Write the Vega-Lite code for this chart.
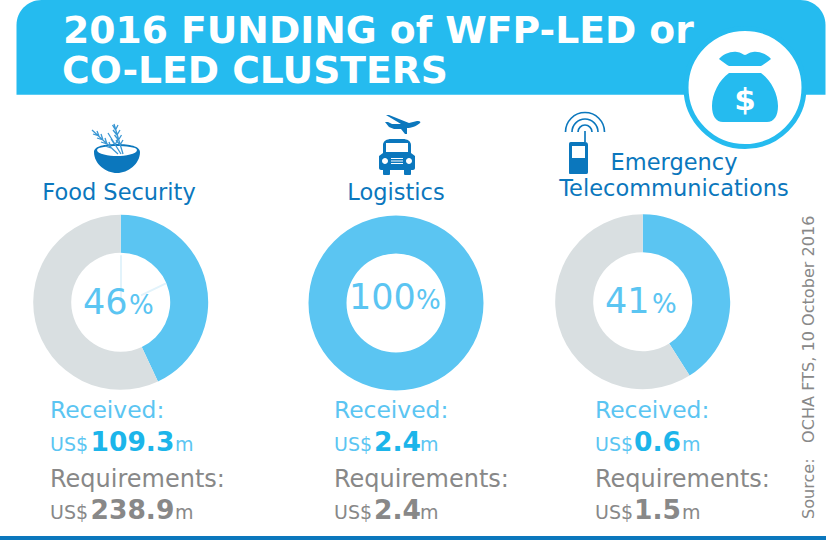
{
"$schema":"https://vega.github.io/schema/vega-lite/v6.json",
"width":826,"height":540,"padding":0,"autosize":{"type":"none"},
"background":"white",
"view":{"stroke":null},
"config":{"text":{"font":"DejaVu Sans"},"axis":{"grid":false}},
"datasets":{
"segments":[
{"column":1,"cluster":"Food Security","part":"Received","start":0,"end":0.43},
{"column":1,"cluster":"Food Security","part":"Gap","start":0.43,"end":1},
{"column":2,"cluster":"Logistics","part":"Received","start":0,"end":1},
{"column":3,"cluster":"Emergency Telecommunications","part":"Received","start":0,"end":0.41},
{"column":3,"cluster":"Emergency Telecommunications","part":"Gap","start":0.41,"end":1}
],
"clusters":[
{"column":1,"name":"Food Security","percent":"46","sign":"%"},
{"column":2,"name":"Logistics","percent":"100","sign":"%"},
{"column":3,"name":"Emergency\nTelecommunications","percent":"41","sign":"%"}
],
"funding":[
{"column":1,"measure":"Received:","currency":"US$","amount":109.3,"unit":"m"},
{"column":1,"measure":"Requirements:","currency":"US$","amount":238.9,"unit":"m"},
{"column":2,"measure":"Received:","currency":"US$","amount":2.4,"unit":"m"},
{"column":2,"measure":"Requirements:","currency":"US$","amount":2.4,"unit":"m"},
{"column":3,"measure":"Received:","currency":"US$","amount":0.6,"unit":"m"},
{"column":3,"measure":"Requirements:","currency":"US$","amount":1.5,"unit":"m"}
],
"icons":[
{"slot":1,"icon":"bowl"},{"slot":2,"icon":"plane"},{"slot":3,"icon":"truck"},{"slot":4,"icon":"phone"},{"slot":5,"icon":"bag"}
],
"lines":[
{"slot":1,"icon":"wheat"},{"slot":2,"icon":"waves"},{"slot":3,"icon":"seams"}
]
},
"layer":[
{"data":{"values":[{"part":"header"}]},
 "mark":{"type":"rect","color":"#25bbef","cornerRadiusTopLeft":25,"cornerRadiusTopRight":25},
 "encoding":{
  "x":{"datum":0,"type":"quantitative","scale":{"domain":[0,1],"range":[16.5,825.5]},"axis":null},"x2":{"datum":1},
  "y":{"datum":0,"type":"quantitative","scale":{"domain":[0,1],"range":[0,94.7]},"axis":null},"y2":{"datum":1}}},
{"data":{"values":[{"part":"footer"}]},
 "mark":{"type":"rect","color":"#0b77bd"},
 "encoding":{
  "x":{"datum":0,"type":"quantitative","scale":{"domain":[0,1],"range":[0,826]},"axis":null},"x2":{"datum":1},
  "y":{"datum":0,"type":"quantitative","scale":{"domain":[0,1],"range":[536,540]},"axis":null},"y2":{"datum":1}}},
{"data":{"values":[{"part":"badge"}]},
 "mark":{"type":"point","shape":"circle","filled":true,"fill":"white","stroke":"#25bbef","strokeWidth":5,"opacity":1,"size":13924},
 "encoding":{
  "x":{"datum":1,"type":"quantitative","scale":{"domain":[0,1],"range":[0,745]},"axis":null},
  "y":{"datum":1,"type":"quantitative","scale":{"domain":[0,1],"range":[0,87.5]},"axis":null}}},
{"data":{"name":"titleRows","values":[{"line":1,"text":"2016 FUNDING of WFP-LED or"},{"line":2,"text":"CO-LED CLUSTERS"}]},
 "mark":{"type":"text","align":"left","baseline":"alphabetic","font":"DejaVu Sans","fontWeight":"bold","fontSize":37.7,"color":"white"},
 "encoding":{
  "x":{"field":"line","type":"quantitative","scale":{"domain":[1,2],"range":[63,62],"zero":false,"nice":false},"axis":null},
  "y":{"field":"line","type":"quantitative","scale":{"domain":[1,2],"range":[42.7,83],"zero":false,"nice":false},"axis":null},
  "text":{"field":"text"}}},
{"data":{"name":"icons"},
 "mark":{"type":"point","filled":true,"opacity":1,"size":4,"strokeWidth":0},
 "encoding":{
  "x":{"field":"slot","type":"quantitative","scale":{"domain":[1,2,3,4,5],"range":[117,403,397,578,745],"zero":false,"nice":false},"axis":null},
  "y":{"field":"slot","type":"quantitative","scale":{"domain":[1,2,3,4,5],"range":[158,124,157,158,88],"zero":false,"nice":false},"axis":null},
  "color":{"field":"icon","type":"nominal","scale":{"domain":["bowl","plane","truck","phone","bag"],"range":["#0b77bd","#0b77bd","#0b77bd","#0b77bd","#25bbef"]},"legend":null},
  "shape":{"field":"icon","type":"nominal","legend":null,"scale":{"domain":["bowl","plane","truck","phone","bag"],"range":[
   "M-23,-6 C-23,-13 -8,-14 0,-14 C8,-14 23,-13 23,-6 C23,6 11,15 0,15 C-11,15 -23,6 -23,-6 Z M-20,-8 C-20,-4 -8,-2 0,-2 C8,-2 20,-4 20,-8 C20,-11 8,-12 0,-12 C-8,-12 -20,-11 -20,-8 Z",
   "M-18,-2 L-15,-2 L-11,0 L-2,0 L-17,-9 L-14,-9 L6,-1 L14,-3 C17,-3.5 18,-2 17,-1 C14,2 8,4 4,4 L4,10 L2,10 L-2,5 L-9,5 L-14,3 Z",
   "M-14,-4 L-14,-12 C-14,-16 -10,-18 -6,-18 L6,-18 C10,-18 14,-16 14,-12 L14,-4 L18,-1 L18,11 C18,12 17,13 16,13 L14,13 L14,17 C14,18 13,18 12,18 L9,18 C8,18 7,18 7,17 L7,13 L-7,13 L-7,17 C-7,18 -8,18 -9,18 L-12,18 C-13,18 -14,18 -14,17 L-14,13 L-16,13 C-17,13 -18,12 -18,11 L-18,-1 Z M-11,-14 L-11,-5 L11,-5 L11,-14 Z M-15,4 a3,3 0 1 0 6,0 a3,3 0 1 0 -6,0 Z M9,4 a3,3 0 1 0 6,0 a3,3 0 1 0 -6,0 Z M-6,1 L-6,2 L6,2 L6,1 Z M-6,3.5 L-6,4.5 L6,4.5 L6,3.5 Z M-6,6 L-6,7 L6,7 L6,6 Z",
   "M-7,-16 L7,-16 C9,-16 10,-15 10,-13 L10,14 C10,16 9,16 7,16 L-7,16 C-9,16 -9,16 -9,14 L-9,-13 C-9,-15 -9,-16 -7,-16 Z M-6,-12 L-6,0 L7,0 L7,-12 Z",
   "M-26,-29 C-22,-34 -14,-37 -8,-36 C-4,-36 -2,-33 0,-33 C2,-33 4,-36 8,-36 C14,-37 22,-34 26,-29 C22,-26 18,-23 16,-22 L-16,-22 C-18,-23 -22,-26 -26,-29 Z M-16,-15 L16,-15 C26,-8 33,6 33,18 C33,28 29,34 22,34 L-22,34 C-29,34 -33,28 -33,18 C-33,6 -26,-8 -16,-15 Z"
  ]}}}},
{"data":{"values":[{"glyph":"$"}]},
 "mark":{"type":"text","align":"center","baseline":"alphabetic","font":"DejaVu Sans","fontWeight":"bold","fontSize":31,"color":"white"},
 "encoding":{
  "x":{"datum":1,"type":"quantitative","scale":{"domain":[0,1],"range":[0,745]},"axis":null},
  "y":{"datum":1,"type":"quantitative","scale":{"domain":[0,1],"range":[0,110]},"axis":null},
  "text":{"field":"glyph"}}},
{"data":{"name":"lines"},
 "mark":{"type":"point","filled":false,"opacity":1,"size":4},
 "encoding":{
  "x":{"field":"slot","type":"quantitative","scale":{"domain":[1,2,3],"range":[117,585,121],"zero":false,"nice":false},"axis":null},
  "y":{"field":"slot","type":"quantitative","scale":{"domain":[1,2,3],"range":[158,132,302.3],"zero":false,"nice":false},"axis":null},
  "color":{"field":"icon","type":"nominal","scale":{"domain":["wheat","waves","seams"],"range":["#3b97d3","#0b77bd","#e2f3fb"]},"legend":null},
  "strokeWidth":{"field":"icon","type":"nominal","scale":{"domain":["wheat","waves","seams"],"range":[1.3,2,0.6]},"legend":null},
  "shape":{"field":"icon","type":"nominal","legend":null,"scale":{"domain":["wheat","waves","seams"],"range":[
   "M6,-4 L-3,-34 M3,-13 L-1,-18 M3,-13 L6,-18 M1.5,-18 L-2.5,-23 M1.5,-18 L4.5,-23 M0,-23 L-4,-28 M0,-23 L3,-28 M-1.5,-28 L-4.5,-33 M-1.5,-28 L1,-33 M1,-4 L-25,-28 M-6,-10 L-12,-12 M-6,-10 L-8,-16 M-10,-14 L-16,-16 M-10,-14 L-12,-20 M-14,-18 L-20,-20 M-14,-18 L-16,-24 M-18,-22 L-24,-24 M-18,-22 L-20,-27 M4,-4 L-9,-25 M-2,-13 L-6,-19 M-2,-13 L1,-19",
   "M-19.5,0 A19.5,19.5 0 0 1 19.5,0 M-13,0 A13,13 0 0 1 13,0 M-7,0 A7,7 0 0 1 7,0 M0,-1 L0,10",
   "M0,0 L0,-47 M20,-7 L45,-19"
  ]}}}},
{"data":{"name":"clusters"},
 "mark":{"type":"text","align":"center","baseline":"bottom","font":"DejaVu Sans","fontSize":22.5,"lineHeight":26,"lineBreak":"\n","color":"#0b77bd"},
 "encoding":{
  "x":{"field":"column","type":"quantitative","scale":{"domain":[1,2,3],"range":[119,396,674],"zero":false,"nice":false},"axis":null},
  "y":{"field":"column","type":"quantitative","scale":{"domain":[1,2,3],"range":[205,205,175],"zero":false,"nice":false},"axis":null},
  "text":{"field":"name"}}},
{"data":{"name":"segments"},
 "mark":{"type":"arc","radius":87.5,"radius2":49.5,"opacity":1},
 "encoding":{
  "x":{"field":"column","type":"quantitative","scale":{"domain":[1,2,3],"range":[120.7,396,642.7],"zero":false,"nice":false},"axis":null},
  "y":{"field":"column","type":"quantitative","scale":{"domain":[1,2,3],"range":[302.3,303,301.7],"zero":false,"nice":false},"axis":null},
  "theta":{"field":"start","type":"quantitative","stack":null,"scale":{"domain":[0,1],"range":[0,6.28319]}},
  "theta2":{"field":"end"},
  "color":{"field":"part","type":"nominal","scale":{"domain":["Received","Gap"],"range":["#5bc5f2","#d9dfe1"]},"legend":null}}},
{"data":{"name":"clusters"},
 "mark":{"type":"text","align":"left","baseline":"alphabetic","font":"DejaVu Sans","fontSize":35,"color":"#5bc5f2"},
 "encoding":{
  "x":{"field":"column","type":"quantitative","scale":{"domain":[1,2,3],"range":[83,349,605],"zero":false,"nice":false},"axis":null},
  "y":{"field":"column","type":"quantitative","scale":{"domain":[1,2,3],"range":[314,309,313],"zero":false,"nice":false},"axis":null},
  "text":{"field":"percent"}}},
{"data":{"name":"clusters"},
 "mark":{"type":"text","align":"left","baseline":"alphabetic","font":"DejaVu Sans","fontSize":26,"color":"#5bc5f2"},
 "encoding":{
  "x":{"field":"column","type":"quantitative","scale":{"domain":[1,2,3],"range":[129,416,652],"zero":false,"nice":false},"axis":null},
  "y":{"field":"column","type":"quantitative","scale":{"domain":[1,2,3],"range":[314,309,313],"zero":false,"nice":false},"axis":null},
  "text":{"field":"sign"}}},
{"data":{"name":"funding"},
 "mark":{"type":"text","align":"left","baseline":"alphabetic","font":"DejaVu Sans"},
 "encoding":{
  "x":{"field":"column","type":"quantitative","scale":{"domain":[1,2,3],"range":[50,334,595],"zero":false,"nice":false},"axis":null},
  "y":{"field":"measure","type":"nominal","scale":{"domain":["Received:","Requirements:"],"range":[418,487],"padding":0},"axis":null},
  "color":{"field":"measure","type":"nominal","scale":{"domain":["Received:","Requirements:"],"range":["#5bc5f2","#888888"]},"legend":null},
  "size":{"field":"measure","type":"nominal","scale":{"domain":["Received:","Requirements:"],"range":[23.4,24]},"legend":null},
  "text":{"field":"measure"}}},
{"data":{"name":"funding"},
 "mark":{"type":"text","align":"left","baseline":"alphabetic","font":"DejaVu Sans","fontSize":19},
 "encoding":{
  "x":{"field":"column","type":"quantitative","scale":{"domain":[1,2,3],"range":[50,334,595],"zero":false,"nice":false},"axis":null},
  "y":{"field":"measure","type":"nominal","scale":{"domain":["Received:","Requirements:"],"range":[451,519],"padding":0},"axis":null},
  "color":{"field":"measure","type":"nominal","scale":{"domain":["Received:","Requirements:"],"range":["#5bc5f2","#888888"]},"legend":null},
  "text":{"field":"currency"}}},
{"data":{"name":"funding"},
 "mark":{"type":"text","align":"left","baseline":"alphabetic","font":"DejaVu Sans","fontWeight":"bold","fontSize":26.5},
 "encoding":{
  "x":{"field":"column","type":"quantitative","scale":{"domain":[1,2,3],"range":[90.5,374,634],"zero":false,"nice":false},"axis":null},
  "y":{"field":"measure","type":"nominal","scale":{"domain":["Received:","Requirements:"],"range":[451,519],"padding":0},"axis":null},
  "color":{"field":"measure","type":"nominal","scale":{"domain":["Received:","Requirements:"],"range":["#1cb5ea","#888888"]},"legend":null},
  "text":{"field":"amount","type":"quantitative","format":".1f"}}},
{"data":{"name":"funding"},
 "mark":{"type":"text","align":"left","baseline":"alphabetic","font":"DejaVu Sans","fontSize":19},
 "encoding":{
  "x":{"field":"column","type":"quantitative","scale":{"domain":[1,2,3],"range":[175,420,682],"zero":false,"nice":false},"axis":null},
  "y":{"field":"measure","type":"nominal","scale":{"domain":["Received:","Requirements:"],"range":[451,519],"padding":0},"axis":null},
  "color":{"field":"measure","type":"nominal","scale":{"domain":["Received:","Requirements:"],"range":["#5bc5f2","#888888"]},"legend":null},
  "text":{"field":"unit"}}},
{"data":{"values":[{"source":"Source:\u00a0\u00a0\u00a0OCHA FTS, 10 October 2016"}]},
 "mark":{"type":"text","align":"left","baseline":"alphabetic","angle":270,"font":"DejaVu Sans","fontSize":16.1,"color":"#888888"},
 "encoding":{
  "x":{"datum":1,"type":"quantitative","scale":{"domain":[0,1],"range":[0,814]},"axis":null},
  "y":{"datum":1,"type":"quantitative","scale":{"domain":[0,1],"range":[0,519]},"axis":null},
  "text":{"field":"source"}}}
],
"resolve":{"scale":{"x":"independent","y":"independent","color":"independent","shape":"independent","strokeWidth":"independent","size":"independent"}}
}
